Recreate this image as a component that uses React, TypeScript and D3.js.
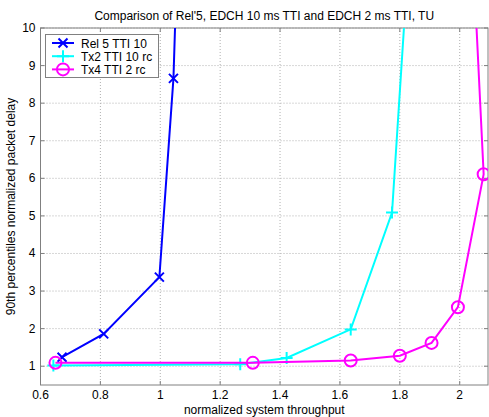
import React from "react";
import * as d3 from "d3";

const W = 489;
const H = 417;

const titleText = "Comparison of Rel'5, EDCH 10 ms TTI and EDCH 2 ms TTI, TU";
const xLabel = "normalized system throughput";
const yLabel = "90th percentiles normalized packet delay";

const xTicks = [0.6, 0.8, 1, 1.2, 1.4, 1.6, 1.8, 2];
const yTicks = [1, 2, 3, 4, 5, 6, 7, 8, 9, 10];

const rel5X = [0.672, 0.811, 0.997, 1.044, 1.065];
const rel5Y = [1.24, 1.86, 3.37, 8.66, 14];

const tx2X = [0.643, 1.267, 1.422, 1.636, 1.774, 1.83];
const tx2Y = [1.02, 1.05, 1.22, 1.98, 5.09, 12];

const tx4X = [0.65, 1.309, 1.636, 1.8, 1.906, 1.994, 2.08, 2.044];
const tx4Y = [1.09, 1.09, 1.15, 1.28, 1.62, 2.57, 6.11, 12];

const seriesNames = ["Rel 5 TTI 10", "Tx2 TTI 10 rc", "Tx4 TTI 2 rc"];
const seriesColors = ["#0000ff", "#00ffff", "#ff00ff"];
const seriesMarkers = ["x", "+", "o"];

const L = 40.5, R = 488, T = 28, B = 385;

export default function App() {
  const x = d3.scaleLinear().domain([0.6, 2.0945]).range([L, R]);
  const y = d3.scaleLinear().domain([0.5, 10]).range([B, T]);
  const line = d3.line<[number, number]>().x(d => x(d[0])).y(d => y(d[1]));
  const series = [
    { xs: rel5X, ys: rel5Y },
    { xs: tx2X, ys: tx2Y },
    { xs: tx4X, ys: tx4Y },
  ];
  const font = "Liberation Sans, Arial, sans-serif";

  const marker = (kind: string, cx: number, cy: number, color: string, key: string) => {
    if (kind === "x") {
      const s = 4.5;
      return (
        <path key={key} d={`M${cx - s},${cy - s}L${cx + s},${cy + s}M${cx - s},${cy + s}L${cx + s},${cy - s}`} stroke={color} strokeWidth={2} fill="none" />
      );
    }
    if (kind === "+") {
      const s = 6;
      return (
        <path key={key} d={`M${cx - s},${cy}L${cx + s},${cy}M${cx},${cy - s}L${cx},${cy + s}`} stroke={color} strokeWidth={2} fill="none" />
      );
    }
    return <circle key={key} cx={cx} cy={cy} r={6} stroke={color} strokeWidth={2} fill="none" />;
  };

  return (
    <svg width={W} height={H} style={{ position: "absolute", left: 0, top: 0, background: "#fff" }} fontFamily={font}>
      <defs>
        <clipPath id="plot">
          <rect x={L} y={T} width={R - L} height={B - T} />
        </clipPath>
      </defs>
      <rect x={0} y={0} width={W} height={H} fill="#fff" />
      {/* grid */}
      {xTicks.map(t => (
        <line key={"gx" + t} x1={x(t)} x2={x(t)} y1={T} y2={B} stroke="#b0b0b0" strokeWidth={1} strokeDasharray="1,2" />
      ))}
      {yTicks.map(t => (
        <line key={"gy" + t} x1={L} x2={R} y1={y(t)} y2={y(t)} stroke="#b0b0b0" strokeWidth={1} strokeDasharray="1,2" />
      ))}
      {/* ticks */}
      {xTicks.map(t => (
        <g key={"tx" + t}>
          <line x1={x(t)} x2={x(t)} y1={B} y2={B - 4} stroke="#808080" />
          <line x1={x(t)} x2={x(t)} y1={T} y2={T + 4} stroke="#808080" />
          <text x={x(t)} y={399} fontSize={12} textAnchor="middle" fill="#000">{String(t)}</text>
        </g>
      ))}
      {yTicks.map(t => (
        <g key={"ty" + t}>
          <line x1={L} x2={L + 4} y1={y(t)} y2={y(t)} stroke="#808080" />
          <line x1={R} x2={R - 4} y1={y(t)} y2={y(t)} stroke="#808080" />
          <text x={L - 5} y={y(t) + 4} fontSize={12} textAnchor="end" fill="#000">{String(t)}</text>
        </g>
      ))}
      <rect x={L} y={T} width={R - L} height={B - T} fill="none" stroke="#808080" strokeWidth={1} />
      {/* series */}
      <g clipPath="url(#plot)">
        {series.map((s, i) => {
          const pts: [number, number][] = s.xs.map((v, j) => [v, s.ys[j]]);
          return (
            <g key={"s" + i}>
              <path d={line(pts) || ""} stroke={seriesColors[i]} strokeWidth={2} fill="none" />
              {pts.filter(p => p[1] <= 10).map((p, j) => marker(seriesMarkers[i], x(p[0]), y(p[1]), seriesColors[i], "m" + i + "_" + j))}
            </g>
          );
        })}
      </g>
      {/* legend */}
      <g>
        <rect x={45.5} y={34.5} width={113} height={43} fill="#fff" stroke="#808080" />
        {seriesNames.map((n, i) => {
          const ly = 43 + i * 13.2;
          return (
            <g key={"l" + i}>
              <line x1={52} x2={74} y1={ly} y2={ly} stroke={seriesColors[i]} strokeWidth={2} />
              {marker(seriesMarkers[i], 63, ly, seriesColors[i], "lm" + i)}
              <text x={81} y={ly + 4.5} fontSize={12} fill="#000">{n}</text>
            </g>
          );
        })}
      </g>
      <text x={(L + R) / 2} y={20} fontSize={12} textAnchor="middle" fill="#000">{titleText}</text>
      <text x={(L + R) / 2} y={413.5} fontSize={12} textAnchor="middle" fill="#000">{xLabel}</text>
      <text transform={`translate(15,${(T + B) / 2}) rotate(-90)`} fontSize={12} textAnchor="middle" fill="#000">{yLabel}</text>
    </svg>
  );
}
